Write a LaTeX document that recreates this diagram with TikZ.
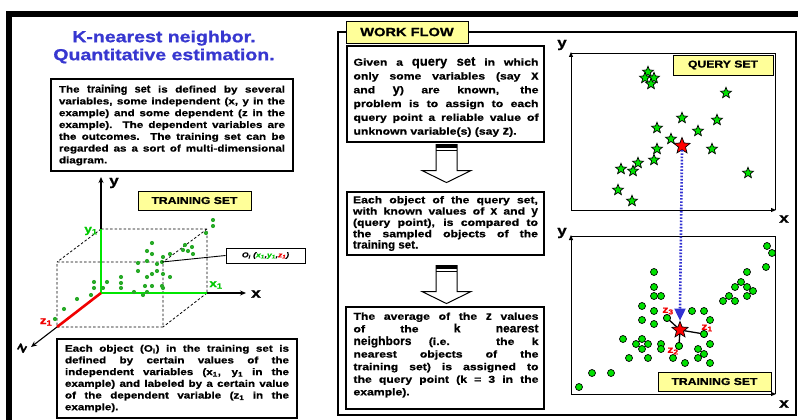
\documentclass[tikz,border=0pt]{standalone}
\usepackage{fontspec}
\setmainfont{Liberation Sans}[FakeStretch=1.22,FakeBold=0.9]
\newfontfamily\plainsans{Liberation Sans}[FakeBold=0.6]
\usetikzlibrary{arrows.meta,shapes.geometric,shadows,calc}
\definecolor{titleblue}{RGB}{55,55,208}
\definecolor{labelyellow}{RGB}{255,255,153}
\definecolor{axisgreen}{RGB}{0,230,0}
\definecolor{dotgreen}{RGB}{40,170,40}
\definecolor{stargreen}{RGB}{0,225,0}
\definecolor{textgreen}{RGB}{0,200,0}
\definecolor{zred}{RGB}{240,0,0}
\definecolor{flowblue}{RGB}{50,50,210}
% larger, unstretched words inside the description boxes
\newcommand\bigword[2]{{\plainsans\bfseries\fontsize{#1}{#1}\selectfont #2}}

\begin{document}
\begin{tikzpicture}[x=1pt,y=-1pt,
  descbox/.style={draw,line width=1.1pt,align=justify,inner sep=0pt},
  tag/.style={draw,line width=0.8pt,fill=labelyellow,inner sep=0pt,
    font=\bfseries\fontsize{10}{10}\selectfont,
    drop shadow={shadow xshift=1.4pt,shadow yshift=-1.4pt,fill=black,opacity=1}},
  axislbl/.style={font=\bfseries\fontsize{14}{14}\selectfont,inner sep=0pt},
  sublbl/.style={font=\bfseries\fontsize{11}{11}\selectfont,inner sep=0pt},
  tdot/.style={circle,fill=dotgreen,minimum size=4.2pt,inner sep=0pt},
  sdot/.style={circle,fill=stargreen,draw=black,line width=0.7pt,minimum size=7pt,inner sep=0pt},
  gstar/.style={star,star points=5,star point ratio=2.3,fill=stargreen,draw=black,
    line width=0.7pt,minimum size=11.5pt,inner sep=0pt},
  rstar/.style={gstar,fill=red,minimum size=17pt},
  thinaxis/.style={line width=0.9pt,-{Triangle[length=5pt,width=4pt]}},
  flowarrow/.pic={
    \filldraw[fill=white,line width=1pt] (-10.5,0) -- (10.5,0) -- (10.5,26) -- (24.5,26)
      -- (0,38) -- (-24.5,26) -- (-10.5,26) -- cycle;
    \fill (-10.5,0) rectangle (10.5,3.8);
    \draw[line width=0.8pt] (-10.5,5.6) -- (10.5,5.6);
  }
]
\useasboundingbox (0,0) rectangle (798,420);
\clip (0,0) rectangle (798,420);
\fill[white] (0,0) rectangle (798,420);

% outer frame
\draw[line width=5.5pt] (9,440) -- (9,14) -- (810,14);

% ---------------- left panel ----------------
\node[font=\bfseries\fontsize{16}{18}\selectfont,text=titleblue,align=center,inner sep=0pt]
  (title) at (164,47) {K-nearest neighbor.\\Quantitative estimation.};

\node[descbox,text width=226pt,minimum width=242pt,minimum height=92pt,
  font=\bfseries\fontsize{9.5}{11.8}\selectfont] (tsdesc) at (172,125)
  {The \bigword{11}{training set} is defined by several\linebreak
   variables, some independent (x, y in the\linebreak
   example) and some dependent (z in the\linebreak
   example). The dependent variables are\linebreak
   the outcomes. The training set can be\linebreak
   regarded as a sort of multi-dimensional\linebreak
   diagram.};

\node[tag,minimum width=113pt,minimum height=19pt] (tstag) at (194.5,200.5) {TRAINING SET};

% 3-D box corners
\coordinate (O) at (101,293);
\coordinate (Y1) at (101,229);
\coordinate (X1) at (207,293);
\coordinate (Z1) at (57,327);
\coordinate (BTR) at (207,229);
\coordinate (FTL) at (57,262);
\coordinate (FTR) at (163,262);
\coordinate (FBR) at (163,327);
\coordinate (Ytip) at (101,177);
\coordinate (Xtip) at (246,293);
\coordinate (Ztip) at (31,347);

\draw[line width=0.8pt,dash pattern=on 2.5pt off 2pt]
  (FTL) -- (FTR) -- (FBR) -- (Z1) -- cycle
  (Y1) -- (BTR) -- (X1)
  (Y1) -- (FTL) (BTR) -- (FTR) (X1) -- (FBR);

\draw[line width=1.1pt,-{Stealth[length=6pt,width=5pt]}] (Y1) -- (Ytip);
\draw[line width=1.1pt,-{Stealth[length=6pt,width=5pt]}] (X1) -- (Xtip);
\draw[line width=1.1pt,-{Stealth[length=6pt,width=5pt]}] (Z1) -- (Ztip);
\draw[axisgreen,line width=2.6pt] (O) -- (Y1);
\draw[axisgreen,line width=2.6pt] (O) -- (X1);
\draw[zred,line width=2.6pt] (O) -- (Z1);

\foreach \p in {(213,220),(213,226),(206,233),(152,243),(147,251),(152,254),(185,245),
  (192,247),(183,250),(188,251),(193,254),(170,254),(163,257),(147,261),(157,264),
  (138,263),(138,271),(157,271),(152,274),(170,277),(163,274),(147,277),(121,277),
  (121,283),(107,282),(94,282),(94,288),(103,288),(121,288),(145,286),(152,286),
  (162,286),(163,288),(134,292),(147,292),(143,295),(91,295),(77,299),(64,309),(55,319)}
  \fill[dotgreen] \p circle (2.1);
\node[tdot] (oi) at (162,262) {};

\node[axislbl] (ylab) at (114,183) {y};
\node[axislbl] (xlab) at (256,294) {x};
\node[axislbl,rotate=60] (zlab) at (22,348) {z};
\node[sublbl,text=textgreen] (y1lab) at (91,231) {y\textsubscript{1}};
\node[sublbl,text=textgreen] (x1lab) at (216,285) {x\textsubscript{1}};
\node[sublbl,text=zred] (z1lab) at (46,322) {z\textsubscript{1}};

\node[draw,line width=1pt,minimum width=79pt,minimum height=15pt,inner sep=0pt,
  font=\bfseries\itshape\fontsize{7}{7}\selectfont] (oilab) at (265.5,255.5)
  {O\textsubscript{i} (\textcolor{textgreen}{x\textsubscript{1}},\textcolor{textgreen}{y\textsubscript{1}},\textcolor{zred}{z\textsubscript{1}})};
\draw[line width=0.9pt] (oi.center) -- (oilab.west);

\node[descbox,text width=224pt,minimum width=240pt,minimum height=79pt,
  font=\bfseries\fontsize{9.5}{11.7}\selectfont] (objdesc) at (177,378.5)
  {Each object (O\textsubscript{i}) in the training set is\linebreak
   defined by certain values of the\linebreak
   independent variables (x\textsubscript{1}, y\textsubscript{1} in the\linebreak
   example) and labeled by a certain value\linebreak
   of the dependent variable (z\textsubscript{1} in the\linebreak
   example).};

% ---------------- work flow panel ----------------
\draw[line width=2.5pt] (338,32) rectangle (796,415);
\node[tag,minimum width=122pt,minimum height=22pt,font=\bfseries\fontsize{12}{12}\selectfont]
  (wftag) at (407,32) {WORK FLOW};

\node[descbox,minimum width=197pt,minimum height=96pt] (qbox) at (445.5,94) {};
\node[text width=185pt,align=justify,inner sep=0pt,font=\bfseries\fontsize{10}{13.8}\selectfont]
  (qtext) at (446,97) 
  {Given a \bigword{13}{query set} in which\linebreak
   only some variables (say \bigword{13}{x}\linebreak
   and \bigword{13}{y}) are known, the\linebreak
   problem is to assign to each\linebreak
   query point a reliable value of\linebreak
   unknown variable(s) (say \bigword{13}{z}).};

\pic at ($(qbox.south)+(1,2)$) {flowarrow};

\node[descbox,text width=185pt,minimum width=197pt,minimum height=63pt,
  font=\bfseries\fontsize{10}{11.3}\selectfont] (cmpbox) at (445.5,223.5)
  {Each object of the query set,\linebreak
   with known values of \bigword{12}{x} and \bigword{12}{y}\linebreak
   (query point), is compared to\linebreak
   the sampled objects of the\linebreak
   \bigword{11.5}{training set}.};

\pic at ($(cmpbox.south)+(1,10)$) {flowarrow};

\node[descbox,minimum width=198pt,minimum height=102pt] (avgbox) at (445,358) {};
\node[text width=185pt,align=justify,inner sep=0pt,font=\bfseries\fontsize{10}{12.6}\selectfont]
  (avgtext) at (446,355)
  {The average of the \bigword{12}{z} values\linebreak
   of the \bigword{12}{k} \bigword{12}{nearest}\linebreak
   \bigword{12}{neighbors} (i.e. the k\linebreak
   nearest objects of the\linebreak
   training set) is assigned to\linebreak
   the query point (k = 3 in the\linebreak
   example).};

% ---------------- query set plot ----------------
\draw[line width=0.9pt] (571,53) -- (775,53) -- (775,210);
\draw[thinaxis] (571,210) -- (571,52);
\draw[thinaxis] (571,210) -- (776,210);
\node[axislbl] (qy) at (562,45) {y};
\node[axislbl] (qx) at (784,219) {x};
\node[tag,minimum width=100pt,minimum height=20pt] (qtag) at (723,65) {QUERY SET};

\foreach \p [count=\i] in {(648,72),(645,78),(654,78),(651,84),(726,93),(682,118),(717,120),
  (657,128),(698,131),(671,139),(657,149),(712,149),(654,160),(638,163),(621,169),
  (633,171),(748,173),(618,190),(632,201)}
  \node[gstar] (qs\i) at \p {};

% ---------------- training set plot ----------------
\draw[line width=0.9pt] (571,236) -- (775,236) -- (775,394);
\draw[thinaxis] (571,394) -- (571,235);
\draw[thinaxis] (571,394) -- (776,394);
\node[axislbl] (ty) at (562,233) {y};
\node[axislbl] (tx) at (784,404) {x};
\node[tag,minimum width=113pt,minimum height=19pt] (ttag) at (714.5,381.5) {TRAINING SET};

\foreach \p [count=\i] in {(767,246),(772,253),(766,267),(747,272),(741,282),(735,287),(747,287),
  (753,291),(729,296),(723,301),(735,301),(747,296),(654,272),(654,287),(654,296),(661,296),
  (642,306),(654,311),(642,320),(654,324),(692,311),(704,311),(710,320),(710,344),(698,349),
  (704,354),(698,358),(710,363),(685,363),(673,358),(661,344),(661,349),(648,344),(642,339),
  (636,344),(642,349),(623,339),(629,358),(648,358),(592,373),(611,373),(579,387)}
  \node[sdot] (td\i) at \p {};
\node[sdot] (nz3) at (667,318) {};
\node[sdot] (nz1) at (704,334) {};
\node[sdot] (nz2) at (679,346) {};

\node[rstar] (qpt) at (682,146) {};
\coordinate (tptc) at (680,330);
\draw[line width=1.3pt] (tptc) -- (nz3.center) (tptc) -- (nz1.center) (tptc) -- (nz2.center);
\node[sdot] at (nz3) {};
\node[sdot] at (nz1) {};
\node[sdot] at (nz2) {};
\node[rstar] (tpt) at (tptc) {};

% query point projected onto the training set
\draw[flowblue,line width=2.6pt,dash pattern=on 1.6pt off 1.6pt] (qpt.south) -- ($(tpt.north)+(0,-11)$);
\fill[flowblue] ($(tpt.north)+(-5.8,-12)$) -- ($(tpt.north)+(5.8,-12)$) -- (tpt.north) -- cycle;

\node[sublbl,text=zred,font=\bfseries\fontsize{10}{10}\selectfont] (z3lab) at (668,311) {z\textsubscript{3}};
\node[sublbl,text=zred,font=\bfseries\fontsize{10}{10}\selectfont] (z1r) at (707,328) {z\textsubscript{1}};
\node[sublbl,text=zred,font=\bfseries\fontsize{10}{10}\selectfont] (z2lab) at (673,351) {z\textsubscript{2}};
\end{tikzpicture}
\end{document}
